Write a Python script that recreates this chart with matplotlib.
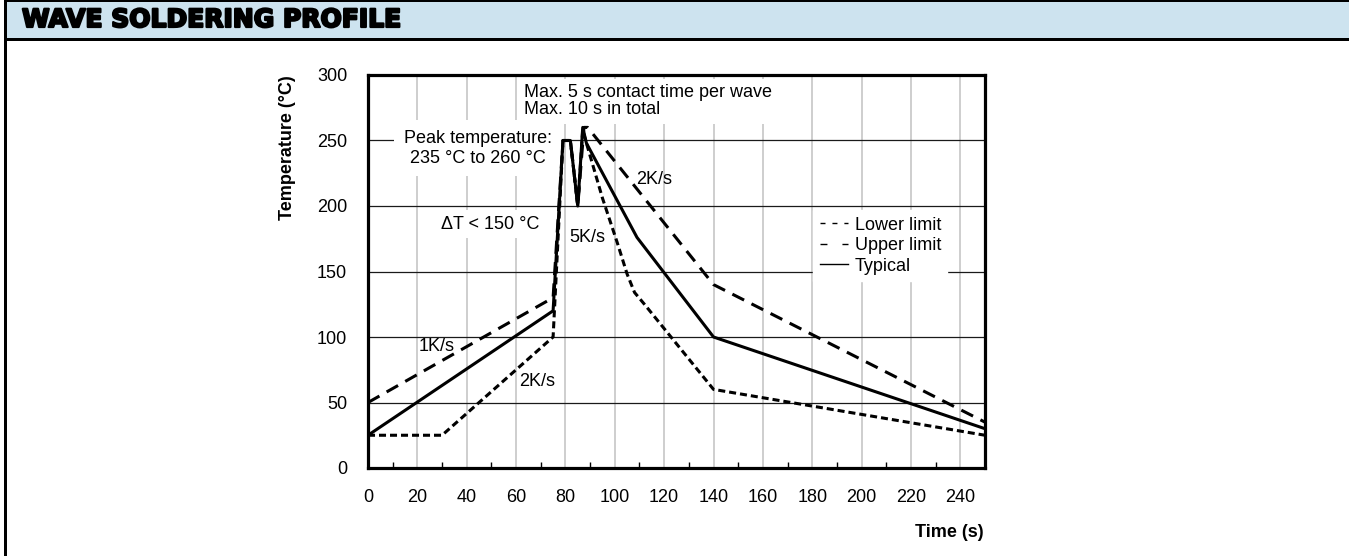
"""Wave soldering profile: temperature vs time with lower / upper / typical curves."""

import matplotlib
matplotlib.use("Agg")
import matplotlib.pyplot as plt
import matplotlib.patheffects as pe
from matplotlib.lines import Line2D
from matplotlib.patches import Rectangle

plt.rcParams["font.family"] = ["Liberation Sans", "DejaVu Sans"]

# ── Data ─────────────────────────────────────────────────────────────────────
time_typ = [0, 75, 79, 82, 85, 87, 88.5, 109, 140, 250]
temp_typ = [25, 120, 250, 250, 200, 260, 248, 176, 100, 30]

time_low = [0, 30, 75, 79, 82, 85, 87, 88.5, 95, 101, 105, 108, 112, 140, 250]
temp_low = [25, 25, 100, 250, 250, 200, 258, 248, 206, 172, 148, 134, 125, 60, 25]

time_up = [0, 75, 79, 82, 85, 87.5, 89, 140, 250]
temp_up = [50, 130, 250, 250, 200, 260, 260, 140, 35]

x_ticks = list(range(0, 250, 20))
x_minor = list(range(10, 250, 20))
y_ticks = list(range(0, 301, 50))

TITLE = "WAVE SOLDERING PROFILE"
HEADER_BLUE = "#cde3ef"
FS = 13


def main():
    fig = plt.figure(figsize=(13.49, 5.56), dpi=100)
    W, H = 1349, 556

    # header band + frame lines (figure pixel coords -> fraction)
    fig.add_artist(Rectangle((6 / W, 1 - 38 / H), 1, 36 / H, transform=fig.transFigure,
                             facecolor=HEADER_BLUE, edgecolor="none"))
    fig.add_artist(Rectangle((4 / W, 1 - 2 / H), 1, 2 / H, transform=fig.transFigure,
                             facecolor="black", edgecolor="none"))
    fig.add_artist(Rectangle((4 / W, 1 - 41 / H), 1, 3 / H, transform=fig.transFigure,
                             facecolor="black", edgecolor="none"))
    fig.add_artist(Rectangle((4 / W, 0), 2.7 / W, 1, transform=fig.transFigure,
                             facecolor="black", edgecolor="none"))
    fig.text(22 / W, 1 - 20 / H, TITLE, family="DejaVu Sans", weight="heavy",
             size=18, va="center", ha="left",
             path_effects=[pe.withStroke(linewidth=1.6, foreground="black")])

    ax = fig.add_axes([368 / W, 88 / H, 617 / W, 393 / H])
    ax.set_xlim(0, 250)
    ax.set_ylim(0, 300)
    ax.set_xticks(x_ticks)
    ax.set_xticks(x_minor, minor=True)
    ax.set_yticks(y_ticks)
    ax.tick_params(axis="both", which="major", length=0, pad=15, labelsize=FS)
    ax.tick_params(axis="x", which="minor", direction="in", length=4, width=1)
    ax.set_axisbelow(True)
    ax.grid(True, axis="x", color="#c6c6c6", lw=1.2)
    ax.grid(True, axis="y", color="#1a1a1a", lw=0.9)
    for sp in ax.spines.values():
        sp.set_linewidth(2.3)

    lw = 2.2
    ax.plot(time_low, temp_low, color="black", lw=lw, ls=(0, (2.3, 1.3)), zorder=4)
    ax.plot(time_up, temp_up, color="black", lw=lw, ls=(0, (4.3, 2.7)), zorder=4)
    ax.plot(time_typ, temp_typ, color="black", lw=lw, ls="-", zorder=5)

    box = dict(facecolor="white", edgecolor="none", pad=4)
    ax.text(63.2, 293, "Max. 5 s contact time per wave\nMax. 10 s in total",
            ha="left", va="top", fontsize=FS, linespacing=1.0, bbox=box, zorder=3)
    ax.text(44.5, 244, "Peak temperature:\n235 °C to 260 °C", ha="center",
            va="center", fontsize=FS, linespacing=1.2,
            bbox=dict(facecolor="white", edgecolor="none", pad=7), zorder=3)
    ax.text(49.5, 186, "ΔT < 150 °C", ha="center", va="center", fontsize=FS,
            bbox=box, zorder=3)
    ax.text(89, 176, "5K/s", ha="center", va="center", fontsize=FS, zorder=3)
    ax.text(116, 220.5, "2K/s", ha="center", va="center", fontsize=FS, zorder=3)
    ax.text(28, 92.4, "1K/s", ha="center", va="center", fontsize=FS, zorder=3)
    ax.text(68.5, 66, "2K/s", ha="center", va="center", fontsize=FS, zorder=3)

    handles = [
        Line2D([], [], color="black", lw=1.0, ls=(0, (3.6, 5.0))),
        Line2D([], [], color="black", lw=1.0, ls=(0, (5.0, 10.8))),
        Line2D([], [], color="black", lw=1.0, ls="-"),
    ]
    leg = ax.legend(handles, ["Lower limit", "Upper limit", "Typical"],
                    loc="upper left", bbox_to_anchor=(0.7216, 0.656),
                    frameon=True, fancybox=False, edgecolor="white",
                    facecolor="white", framealpha=1, fontsize=FS,
                    borderpad=0.35, borderaxespad=0, handlelength=1.6,
                    handletextpad=0.35, labelspacing=0.2)
    leg.set_zorder(6)

    ax.set_ylabel("Temperature (°C)", fontsize=FS, weight="bold")
    ax.yaxis.set_label_coords(-0.131, 1.0)
    ax.yaxis.label.set_rotation_mode("anchor")
    ax.yaxis.label.set_horizontalalignment("right")
    ax.yaxis.label.set_verticalalignment("center")
    ax.set_xlabel("Time (s)", fontsize=FS, weight="bold")
    ax.xaxis.set_label_coords(0.997, -0.165)
    ax.xaxis.label.set_horizontalalignment("right")
    ax.xaxis.label.set_verticalalignment("center")

    fig.savefig("out.png", dpi=100)
    plt.close(fig)


if __name__ == "__main__":
    main()
